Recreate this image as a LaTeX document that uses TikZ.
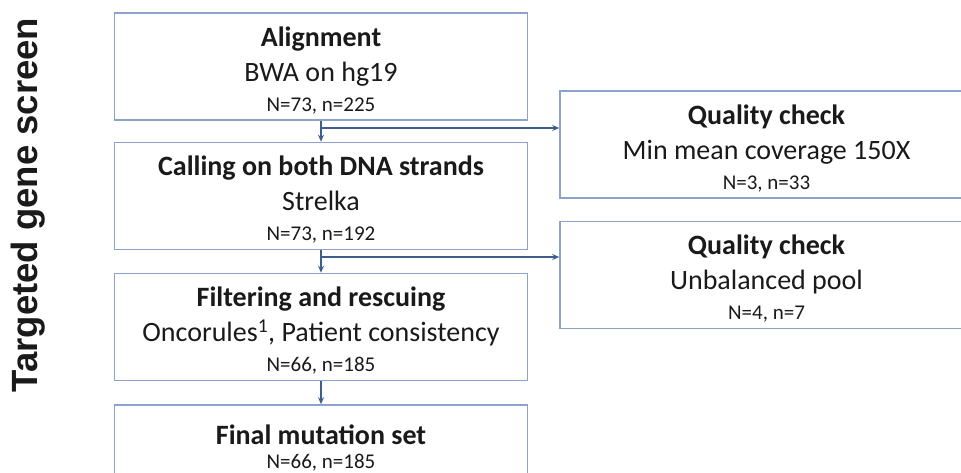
\documentclass[tikz,border=0pt]{standalone}
\usepackage{fontspec}
\setmainfont{Carlito}
\newfontfamily\titlefont{Liberation Sans}
\usetikzlibrary{arrows.meta, positioning, calc}
\definecolor{mBorder}{HTML}{8AA4CC}
\definecolor{mArrow}{HTML}{3E5F8E}
\definecolor{mText}{HTML}{1A1A1A}
\newcommand{\countline}[1]{{\fontsize{21}{27}\selectfont #1}}

\begin{document}
\begin{tikzpicture}[x=1pt, y=-1pt,
    stepbox/.style={draw=mBorder, line width=1.6pt, fill=white, text=mText, align=center,
      minimum width=413pt, minimum height=107pt, inner sep=0pt,
      font=\fontsize{28}{35}\selectfont},
    arr/.style={-{Stealth[length=7pt, width=6pt]}, draw=mArrow, line width=1.4pt}]
    \useasboundingbox (0,0) rectangle (961,472);
    \clip (0,0) rectangle (961,472);
    % side title
    \node[rotate=90, font=\titlefont\bfseries\fontsize{36.5}{40}\selectfont, text=mText] (side) at (28.5,205) {Targeted gene screen};
    % main pipeline
    \node[stepbox] (align) at (321,66.5) {\rule{0pt}{27pt}\textbf{Alignment}\\BWA on hg19\\[-5pt]\countline{N=73, n=225}};
    \node[stepbox] (call) at (321,196) {\rule{0pt}{27pt}\textbf{Calling on both DNA strands}\\Strelka\\[-5pt]\countline{N=73, n=192}};
    \node[stepbox] (filt) at (321,327) {\rule{0pt}{27pt}\textbf{Filtering and rescuing}\\Oncorules\textsuperscript{1}, Patient consistency\\[-5pt]\countline{N=66, n=185}};
    \node[stepbox] (final) at (321,458.5) {\textbf{Final mutation set}\\[-11pt]\countline{N=66, n=185}\rule[-24pt]{0pt}{0pt}};
    % quality checks
    \node[stepbox] (qcov) at (766.5,144.5) {\rule{0pt}{27pt}\textbf{Quality check}\\Min mean coverage 150X\\[-5pt]\countline{N=3, n=33}};
    \node[stepbox] (qpool) at (766.5,275) {\rule{0pt}{27pt}\textbf{Quality check}\\Unbalanced pool\\[-5pt]\countline{N=4, n=7}};
    % connectors
    \coordinate (j1) at (321,128);
    \coordinate (j2) at (321,257);
    \draw[arr] (align) -- (call);
    \draw[arr] (call) -- (filt);
    \draw[arr] (filt) -- (final);
    \draw[arr] (j1) -- (j1 -| qcov.west);
    \draw[arr] (j2) -- (j2 -| qpool.west);
\end{tikzpicture}
\end{document}
